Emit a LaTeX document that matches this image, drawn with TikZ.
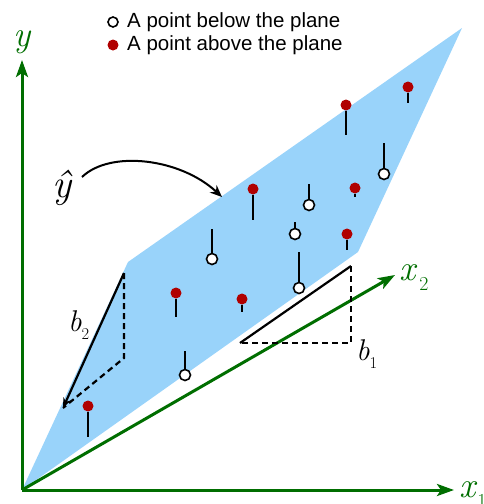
\documentclass[tikz,border=0pt]{standalone}
\usepackage{fontspec}
\newfontfamily\legendfont{Liberation Sans}
\usetikzlibrary{arrows.meta}
\definecolor{axgreen}{RGB}{0,110,0}
\definecolor{planeblue}{RGB}{153,211,250}
\definecolor{dotred}{RGB}{176,0,0}
\newcommand{\sublab}[3]{{\itshape #1}\kern#3\raisebox{-0.28em}{\fontsize{0.55em}{0.55em}\selectfont\upshape #2}}
\begin{document}
\begin{tikzpicture}[x=1pt,y=-1pt,
  axis/.style={draw=axgreen,line width=3pt,-{Stealth[length=17pt,width=12pt,inset=4pt]}},
  axlabel/.style={text=axgreen,inner sep=0pt,font=\fontsize{36}{36}\selectfont},
  blabel/.style={inner sep=0pt,font=\fontsize{30}{30}\selectfont},
  stem/.style={draw=black,line width=1.7pt},
  above dot/.style={circle,fill=dotred,minimum size=11pt,inner sep=0pt},
  below dot/.style={circle,draw=black,fill=white,line width=1.6pt,minimum size=11pt,inner sep=0pt},
  solidleg/.style={draw=black,line width=2.2pt},
  dashleg/.style={draw=black,line width=2.2pt,dash pattern=on 6pt off 4pt},
  legtext/.style={anchor=west,inner sep=0pt,font=\legendfont\fontsize{20.5}{20.5}\selectfont}]
\useasboundingbox (0,0) rectangle (484,504);
% plane
\coordinate (O) at (22,490);
\coordinate (PL) at (128,262);
\coordinate (PT) at (462,28);
\coordinate (PR) at (358,252);
\fill[planeblue] (O) -- (PL) -- (PT) -- (PR) -- cycle;
% axes
\coordinate (Ytip) at (22,60);
\coordinate (X1tip) at (454,490);
\coordinate (X2tip) at (395,275);
\draw[axis] (O) -- (Ytip);
\draw[axis] (O) -- (X1tip);
\draw[axis] (O) -- (X2tip);
\node[axlabel] (ylab) at (22,42) {\itshape y};
\node[axlabel,anchor=base west] (x1lab) at (459,497) {\sublab{x}{1}{2pt}};
\node[axlabel,anchor=base west] (x2lab) at (399,280) {\sublab{x}{2}{4pt}};
% b2 triangle
\coordinate (B2top) at (124,273);
\coordinate (B2cor) at (124,358);
\coordinate (B2bot) at (63,408);
\draw[dashleg] (B2top) -- (B2cor) -- (B2bot);
\draw[solidleg,-{Stealth[length=10pt,width=8pt]}] (B2top) -- (B2bot);
\node[blabel,anchor=base west] (b2lab) at (68,331) {\sublab{b}{2}{0pt}};
% b1 triangle
\coordinate (B1left) at (240,343);
\coordinate (B1top) at (351,266);
\coordinate (B1cor) at (351,343);
\draw[dashleg] (B1top) -- (B1cor) -- (B1left);
\draw[solidleg] (B1left) -- (B1top);
\node[blabel,anchor=base west] (b1lab) at (356,360) {\sublab{b}{1}{0pt}};
% y-hat and arrow
\node[inner sep=0pt,font=\fontsize{40}{40}\selectfont] (yhat) at (62,188) {\itshape ŷ};
\coordinate (yhatstart) at (82,177);
\coordinate (yhatend) at (222,197);
\draw[line width=2pt,-{Stealth[length=12pt,width=10pt]}] (yhatstart) .. controls (110,150) and (180,158) .. (yhatend);
% points above (red, stem down)
\foreach \n/\x/\y/\e in {a1/346/105/135, a2/408/87/103, a3/253/189/220, a4/355/188/197,
  a5/347/234/250, a6/176/293/317, a7/242/299/312, a8/88/406/437} {
  \coordinate (\n s) at (\x,\e);
  \node[above dot] (\n) at (\x,\y) {};
  \draw[stem] (\n.south) -- (\n s);
}
% points below (open, stem up)
\foreach \n/\x/\y/\s in {c1/384/174/143, c2/309/205/184, c3/295/234/222, c4/212/259/229,
  c5/299/288/252, c6/185/375/351} {
  \coordinate (\n s) at (\x,\s);
  \node[below dot] (\n) at (\x,\y) {};
  \draw[stem] (\n.north) -- (\n s);
}
% legend
\node[below dot,minimum size=10pt] (legopen) at (113,22) {};
\node[legtext] (legt1) at (127,22) {A point below the plane};
\node[above dot] (legred) at (113,45) {};
\node[legtext] (legt2) at (127,45) {A point above the plane};
\end{tikzpicture}
\end{document}
